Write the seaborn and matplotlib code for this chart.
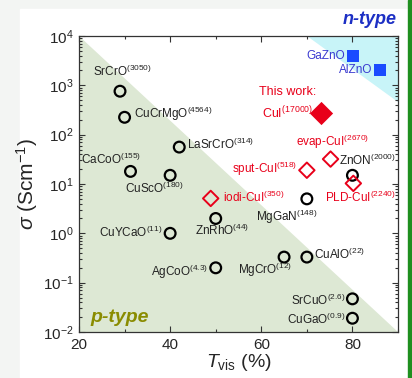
import matplotlib
matplotlib.use("Agg")
import matplotlib.pyplot as plt
import seaborn as sns
import pandas as pd
from matplotlib.patches import Polygon, Rectangle
from matplotlib.ticker import LogLocator, MultipleLocator

# p-type oxides / nitrides (open black circles)
p_names = ["SrCrO", "CuCrMgO", "LaSrCrO", "CaCoO", "CuScO", "ZnRhO", "CuYCaO",
           "MgGaN", "ZnON", "CuAlO", "MgCrO", "AgCoO", "SrCuO", "CuGaO"]
p_fom = ["3050", "4564", "314", "155", "180", "44", "11",
         "148", "2000", "22", "12", "4.3", "2.6", "0.9"]
p_T = [29, 30, 42, 31.3, 40, 50, 40, 70, 80, 70, 65, 50, 80, 80]
p_sigma = [760, 225, 56, 18, 15, 2.0, 1.0, 5.0, 15, 0.33, 0.33, 0.2, 0.047, 0.019]

# other CuI films (open red diamonds)
cui_names = ["iodi-CuI", "sput-CuI", "evap-CuI", "PLD-CuI"]
cui_fom = ["350", "518", "2670", "2240"]
cui_T = [48.9, 70, 75.2, 80.2]
cui_sigma = [5.1, 19, 32, 10.3]

# this work
tw_T = [73.2]
tw_sigma = [275]

# n-type reference (blue squares)
n_names = ["GaZnO", "AlZnO"]
n_T = [80.2, 86.1]
n_sigma = [3900, 2050]

# label offsets in pixels (dx, dy up) and alignment
p_lab = [(2, 20, "center"), (9, 3, "left"), (8, 3, "left"), (11, 12, "right"),
         (14, -13, "right"), (6, -12, "center"), (-8, 1, "right"),
         (10, -18, "right"), (43, 15, "right"), (7, 3, "left"),
         (8, -13, "right"), (-8, -4, "right"), (-7, -2, "right"), (-7, -1, "right")]
cui_lab = [(12, 1, "left"), (-10, 1, "right"), (2, 17, "center"), (7, -14, "center")]

red = "#e8001a"
blue = "#1a4bff"

sns.set_style("ticks")
plt.rcParams["font.family"] = ["Liberation Sans", "DejaVu Sans"]
plt.rcParams["mathtext.fontset"] = "custom"
plt.rcParams["mathtext.rm"] = "Liberation Sans"
plt.rcParams["mathtext.it"] = "Liberation Sans:italic"
plt.rcParams["mathtext.bf"] = "Liberation Sans:bold"

fig = plt.figure(figsize=(4.12, 3.78), dpi=100, facecolor="#f3f5f3")
fig.patches.append(Rectangle((20 / 412, 0), 388 / 412, 1 - 9 / 378,
                             transform=fig.transFigure, color="white", zorder=-10))
fig.patches.append(Rectangle((408 / 412, 0), 4 / 412, 1,
                             transform=fig.transFigure, color="#1f8f1f", zorder=-10))
ax = fig.add_axes([79 / 412, 46 / 378, 319 / 412, 296 / 378])
ax.set_yscale("log")
ax.set_xlim(20, 90)
ax.set_ylim(1e-2, 1e4)

ax.add_patch(Polygon([(20, 1e4), (20, 1e-2), (90, 1e-2)], closed=True,
                     facecolor="#dde8d4", edgecolor="none", zorder=0))
ax.add_patch(Polygon([(70, 1e4), (90, 1e4), (90, 450)], closed=True,
                     facecolor="#c8f4f8", edgecolor="none", zorder=0))

df_p = pd.DataFrame({"T": p_T, "s": p_sigma})
df_c = pd.DataFrame({"T": cui_T, "s": cui_sigma})
df_t = pd.DataFrame({"T": tw_T, "s": tw_sigma})
df_n = pd.DataFrame({"T": n_T, "s": n_sigma})

sns.scatterplot(data=df_p, x="T", y="s", ax=ax, marker="o", s=60,
                facecolor="none", edgecolor="black", linewidth=1.6, zorder=3)
sns.scatterplot(data=df_c, x="T", y="s", ax=ax, marker="D", s=62,
                facecolor="none", edgecolor=red, linewidth=1.4, zorder=3)
sns.scatterplot(data=df_t, x="T", y="s", ax=ax, marker="D", s=140,
                color=red, edgecolor=red, linewidth=0, zorder=3)
sns.scatterplot(data=df_n, x="T", y="s", ax=ax, marker="s", s=70,
                color=blue, edgecolor=blue, linewidth=0, zorder=3)

k = 0.72  # px -> pt
for name, f, t, s, (dx, dy, ha) in zip(p_names, p_fom, p_T, p_sigma, p_lab):
    ax.annotate(name + r"$^{(" + f + ")}$", (t, s), xytext=(dx * k, dy * k),
                textcoords="offset points", ha=ha, va="center", fontsize=8.5,
                color="#222222")
for name, f, t, s, (dx, dy, ha) in zip(cui_names, cui_fom, cui_T, cui_sigma, cui_lab):
    ax.annotate(name + r"$^{(" + f + ")}$", (t, s), xytext=(dx * k, dy * k),
                textcoords="offset points", ha=ha, va="center", fontsize=8.5,
                color=red)
ax.annotate("This work:\nCuI$^{(17000)}$", (tw_T[0], tw_sigma[0]),
            xytext=(-5 * k, 9 * k), textcoords="offset points", ha="right",
            va="center", multialignment="center", fontsize=9, color=red,
            linespacing=1.5)
for name, t, s in zip(n_names, n_T, n_sigma):
    ax.annotate(name, (t, s), xytext=(-8 * k, 0), textcoords="offset points",
                ha="right", va="center", fontsize=8.5, color="#3a3ad0")

ax.text(22.6, 2.0e-2, "p-type", fontsize=14, fontweight="bold", style="italic",
        color="#8a8c00", va="center", ha="left")
fig.text(397 / 412, 1 - 20 / 378, "n-type", fontsize=13, fontweight="bold",
         style="italic", color="#1c2fc4", ha="right", va="center")

ax.xaxis.set_major_locator(MultipleLocator(20))
ax.xaxis.set_minor_locator(MultipleLocator(10))
ax.yaxis.set_major_locator(LogLocator(base=10, numticks=10))
ax.yaxis.set_minor_locator(LogLocator(base=10, subs=range(2, 10), numticks=20))
ax.tick_params(which="both", direction="in", top=True, right=True, width=0.8,
               color="#333333")
ax.tick_params(which="major", length=4, labelsize=11)
ax.tick_params(axis="x", which="major", pad=4)
ax.tick_params(axis="y", which="major", pad=4)
ax.tick_params(which="minor", length=2)
for sp in ax.spines.values():
    sp.set_linewidth(0.9)
    sp.set_color("#333333")

ax.set_xlabel(r"$T_{\rm vis}$ (%)", fontsize=14, labelpad=0)
ax.set_ylabel(r"$\sigma$ (Scm$^{-1}$)", fontsize=15, labelpad=2)

fig.savefig("out.png", dpi=100, facecolor=fig.get_facecolor())
